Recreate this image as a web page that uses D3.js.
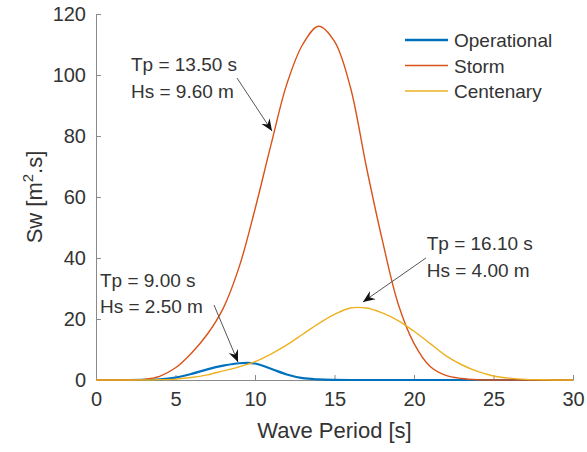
<!DOCTYPE html>
<html>
<head>
<meta charset="utf-8">
<script src="https://cdn.jsdelivr.net/npm/d3@7"></script>
<style>
  body { margin: 0; background: #fff; }
  svg { display: block; font-family: "Liberation Sans", Arial, sans-serif; }
</style>
</head>
<body>
<div id="chart"></div>
<script>
// wave period samples [s]
var periods = d3.range(0, 31);
// spectra
var operational = [0, 0, 0, 0.05, 0.2, 0.8, 2, 3.5, 4.7, 5.5, 5.4, 3.7, 1.8, 0.6, 0.2, 0.05, 0, 0, 0, 0, 0, 0, 0, 0, 0, 0, 0, 0, 0, 0, 0];
var storm = [0, 0, 0, 0.2, 1.2, 4, 8.8, 15, 23.5, 37, 56, 77, 97, 110, 116, 111, 96, 70, 46, 25, 12, 4.5, 1.5, 0.5, 0.1, 0, 0, 0, 0, 0, 0];
var centenary = [0, 0, 0, 0, 0.1, 0.3, 0.8, 1.7, 3, 4.3, 6, 8.5, 11.5, 15, 18.5, 21.5, 23.6, 23.6, 22, 19.5, 16, 12, 8, 5, 2.8, 1.3, 0.6, 0.2, 0.1, 0, 0];

var seriesNames = ["Operational", "Storm", "Centenary"];
var xTicks = [0, 5, 10, 15, 20, 25, 30];
var yTicks = [0, 20, 40, 60, 80, 100, 120];

// annotation labels
var noteLines = [["Tp = 13.50 s", "Hs = 9.60 m"], ["Tp = 9.00 s", "Hs = 2.50 m"], ["Tp = 16.10 s", "Hs = 4.00 m"]];
var noteText = [[2.2, 101.3], [0.25, 30.5], [20.8, 42.6]];
var noteFrom = [[8.87, 99], [7.42, 24.6], [20.75, 40]];
var noteTo = [[11.07, 81.6], [8.93, 5.9], [16.79, 25.6]];

var width = 587, height = 452;
var margin = {top: 14, right: 14, bottom: 72, left: 96};

var svg = d3.select("#chart").append("svg")
    .attr("width", width)
    .attr("height", height);

var x = d3.scaleLinear().domain([0, 30]).range([margin.left, width - margin.right]);
var y = d3.scaleLinear().domain([0, 120]).range([height - margin.bottom, margin.top]);

var axisColor = "#8a8a8a";
var textColor = "#333";

// x axis, ticks inward
var xAxis = svg.append("g")
    .attr("transform", "translate(0," + y(0) + ")")
    .call(d3.axisBottom(x).tickValues(xTicks).tickSizeInner(-5).tickSizeOuter(0).tickPadding(12));
// y axis
var yAxis = svg.append("g")
    .attr("transform", "translate(" + x(0) + ",0)")
    .call(d3.axisLeft(y).tickValues(yTicks).tickSizeInner(-5).tickSizeOuter(0).tickPadding(10));

[xAxis, yAxis].forEach(function (g) {
    g.select(".domain").attr("stroke", axisColor);
    g.selectAll(".tick line").attr("stroke", axisColor);
    g.selectAll(".tick text")
        .attr("fill", textColor)
        .style("font-size", "20px")
        .style("font-family", "'Liberation Sans', Arial, sans-serif");
});

// axis labels
svg.append("text")
    .attr("x", (x(0) + x(30)) / 2)
    .attr("y", 438)
    .attr("text-anchor", "middle")
    .attr("fill", textColor)
    .style("font-size", "22px")
    .text("Wave Period [s]");

var yLabel = svg.append("text")
    .attr("transform", "translate(42," + (y(0) + y(120)) / 2 + ") rotate(-90)")
    .attr("text-anchor", "middle")
    .attr("fill", textColor)
    .style("font-size", "22px");
yLabel.append("tspan").text("Sw [m");
yLabel.append("tspan").attr("dy", -9).style("font-size", "15px").text("2");
yLabel.append("tspan").attr("dy", 9).text(".s]");

// curves
var colors = ["#0072BD", "#D95319", "#EDB120"];
var widths = [2.2, 1.4, 1.4];
var allSeries = [operational, storm, centenary];

var line = d3.line()
    .x(function (d) { return x(d[0]); })
    .y(function (d) { return y(Math.max(0, d[1])); })
    .curve(d3.curveCatmullRom.alpha(0.5));

allSeries.forEach(function (vals, i) {
    svg.append("path")
        .datum(periods.map(function (p, k) { return [p, vals[k]]; }))
        .attr("fill", "none")
        .attr("stroke", colors[i])
        .attr("stroke-width", widths[i])
        .attr("d", line);
});

// legend
var legend = svg.append("g").attr("transform", "translate(405,40)");
seriesNames.forEach(function (name, i) {
    var row = legend.append("g").attr("transform", "translate(0," + i * 25.5 + ")");
    row.append("line")
        .attr("x1", 0).attr("x2", 43)
        .attr("y1", 0).attr("y2", 0)
        .attr("stroke", colors[i])
        .attr("stroke-width", widths[i] + 0.3);
    row.append("text")
        .attr("x", 49)
        .attr("y", 7)
        .attr("fill", textColor)
        .style("font-size", "19px")
        .text(name);
});

// annotation arrows
svg.append("defs").append("marker")
    .attr("id", "head")
    .attr("viewBox", "-12 -6 14 12")
    .attr("refX", 0).attr("refY", 0)
    .attr("markerWidth", 14).attr("markerHeight", 12)
    .attr("markerUnits", "userSpaceOnUse")
    .attr("orient", "auto")
    .append("path")
    .attr("d", "M0,0 L-12,-5 L-8,0 L-12,5 Z")
    .attr("fill", "#111");

noteLines.forEach(function (lines, i) {
    svg.append("line")
        .attr("x1", x(noteFrom[i][0])).attr("y1", y(noteFrom[i][1]))
        .attr("x2", x(noteTo[i][0])).attr("y2", y(noteTo[i][1]))
        .attr("stroke", "#555")
        .attr("stroke-width", 1)
        .attr("marker-end", "url(#head)");
    lines.forEach(function (t, j) {
        svg.append("text")
            .attr("x", x(noteText[i][0]))
            .attr("y", y(noteText[i][1]) + j * 26.5)
            .attr("fill", textColor)
            .style("font-size", "19px")
            .text(t);
    });
});
</script>
</body>
</html>
